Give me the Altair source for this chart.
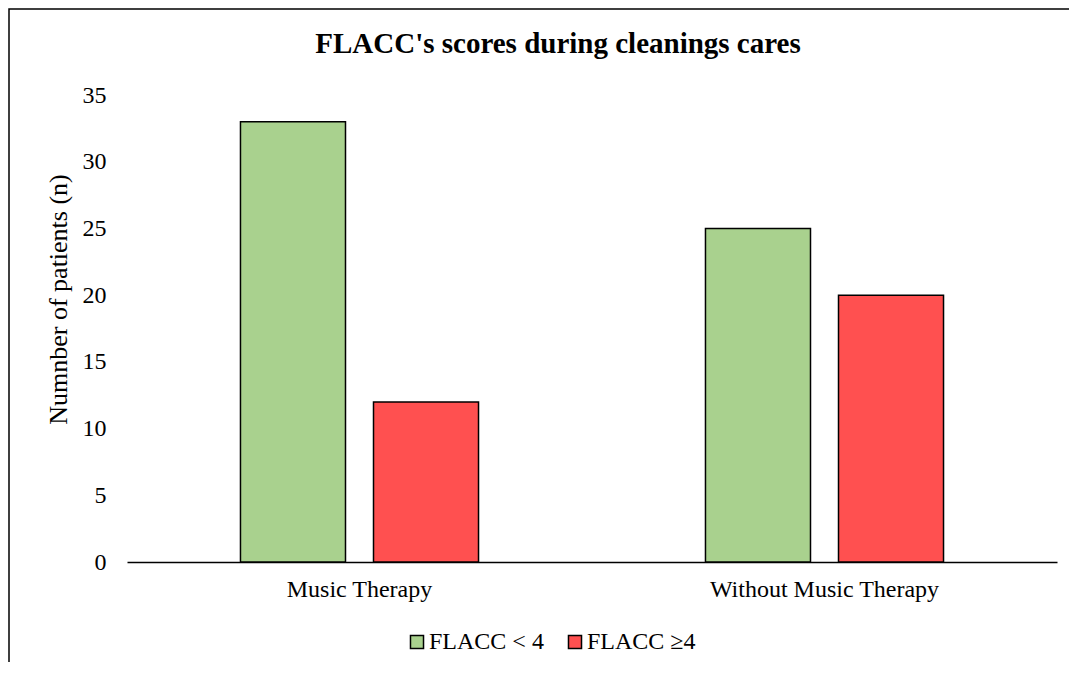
import altair as alt
import pandas as pd

groups = ["Music Therapy", "Without Music Therapy"]
series = ["FLACC < 4", "FLACC \u22654"]
values_low = [33, 25]
values_high = [12, 20]
colors = ["#A9D18E", "#FF5050"]

rows = []
for i, g in enumerate(groups):
    rows.append({"group": g, "series": series[0], "value": values_low[i]})
    rows.append({"group": g, "series": series[1], "value": values_high[i]})
df = pd.DataFrame(rows)

W, H = 930, 467
PL, PT = 119, 87
PR, PB = 12, 100
FONT = "Liberation Serif"
FS = 24

bars = alt.Chart(df).mark_bar(stroke="black", strokeWidth=1.5).encode(
    x=alt.X("group:N", sort=groups, title=None,
            scale=alt.Scale(paddingInner=0, paddingOuter=0),
            axis=alt.Axis(labelAngle=0, ticks=False, domain=True, domainColor="black",
                          domainWidth=1.5, labelPadding=15, labelFontSize=FS,
                          labelLimit=0, labelFont=FONT, labelColor="black", grid=False)),
    xOffset=alt.XOffset("series:N", sort=series,
                        scale=alt.Scale(paddingInner=0.2105, paddingOuter=0.853)),
    y=alt.Y("value:Q", title="Numnber of patients (n)",
            scale=alt.Scale(domain=[0, 35], nice=False),
            axis=alt.Axis(values=[0, 5, 10, 15, 20, 25, 30, 35], ticks=False, domain=False,
                          grid=False, labelPadding=21, labelFontSize=24, labelFont=FONT,
                          labelColor="black", titleFont=FONT, titleFontSize=26,
                          titleFontWeight="normal", titleColor="black", titlePadding=11,
                          titleY=204)),
    color=alt.Color("series:N", sort=series,
                    scale=alt.Scale(domain=series, range=colors),
                    legend=alt.Legend(title=None, orient="none", direction="horizontal",
                                      legendX=278, legendY=535, symbolType="square",
                                      symbolSize=170, symbolStrokeColor="black",
                                      symbolStrokeWidth=1.5, labelFont=FONT,
                                      labelFontSize=FS, labelColor="black",
                                      columnPadding=19, labelOffset=0)),
)

border = alt.Chart(pd.DataFrame({"a": [0]})).mark_rect(
    fill=None, stroke="black", strokeWidth=1.5, clip=False
).encode(
    x=alt.value(-PL + 1), x2=alt.value(W + 200),
    y=alt.value(-PT + 1), y2=alt.value(H + 200),
)

chart = alt.layer(border, bars).properties(
    width=W, height=H,
    padding={"left": PL, "top": PT, "right": PR, "bottom": PB},
    autosize=alt.AutoSizeParams(type="none"),
    title=alt.TitleParams("FLACC's scores during cleanings cares", font=FONT, fontSize=29,
                          fontWeight="bold", color="black", anchor="middle", dx=-34,
                          offset=-51),
).configure_view(stroke=None)

chart.save("out.html", embed_options={"renderer": "svg", "actions": False})
